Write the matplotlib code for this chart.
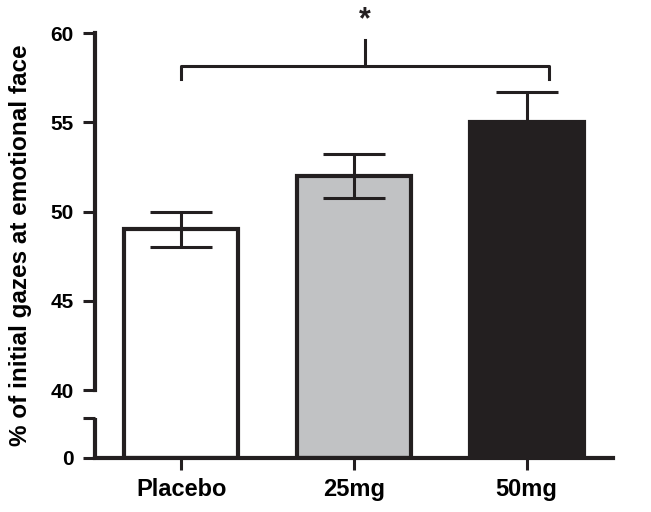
import numpy as np
import matplotlib
matplotlib.use("Agg")
import matplotlib.pyplot as plt

plt.rcParams['font.family'] = ['Liberation Sans', 'DejaVu Sans']
plt.rcParams['font.weight'] = 'bold'

# donnees
groupes = ["Placebo", "25mg", "50mg"]
moyennes = [49.0, 52.0, 55.0]
erreurs = [1.0, 1.25, 1.7]
couleurs = ["#ffffff", "#c1c2c4", "#231f20"]
graduations = [0, 40, 45, 50, 55, 60]
etiquettes = ["0", "40", "45", "50", "55", "60"]

noir = "#231f20"

# echelle coupee : 0-40 compresse, 40-60 normal
k = 0.095
def avant(v):
    v = np.asarray(v, dtype=float)
    return np.where(v < 40, v * k, 40 * k + v - 40)

def arriere(u):
    u = np.asarray(u, dtype=float)
    return np.where(u < 40 * k, u / k, u - 40 * k + 40)

fig = plt.figure(figsize=(6.51, 5.12), dpi=100)
ax = fig.add_axes([0.146, 0.1055, 0.7956, 0.83])
ax.set_yscale('function', functions=(avant, arriere))

x = np.arange(len(groupes))
ax.bar(x, moyennes, width=0.66, color=couleurs, edgecolor=noir, linewidth=3, zorder=2)
ax.errorbar(x, moyennes, yerr=erreurs, fmt='none', ecolor=noir, elinewidth=2.2,
            capsize=22.5, capthick=2.2, zorder=3)

ax.set_xlim(-0.5, 2.5)
ax.set_ylim(0, 60)

# axes
ax.spines['top'].set_visible(False)
ax.spines['right'].set_visible(False)
ax.spines['left'].set_linewidth(3)
ax.spines['bottom'].set_linewidth(3)
ax.spines['left'].set_color(noir)
ax.spines['bottom'].set_color(noir)
ax.spines['left'].set_bounds(40, 60)
haut_bas = 23.6
ax.plot([0, 0], [0, haut_bas], color=noir, lw=3, transform=ax.get_yaxis_transform(),
        clip_on=False, solid_capstyle='butt')

ax.set_yticks(graduations + [haut_bas])
ax.set_yticklabels(etiquettes + [""])
ax.set_xticks(x)
ax.set_xticklabels(groupes)
ax.tick_params(axis='y', length=8.6, width=2.2, color=noir, labelsize=15, pad=7)
ax.tick_params(axis='x', length=8.6, width=2.2, color=noir, labelsize=17, pad=6)
ax.set_ylabel("% of initial gazes at emotional face", fontsize=17.5, fontweight='bold',
              labelpad=13)

# crochet de significativite
g, d = 0, 2.13
ax.plot([g, g, d, d], [57.45, 58.17, 58.17, 57.45], color=noir, lw=2.2, clip_on=False)
ax.plot([(g + d) / 2] * 2, [58.17, 59.6], color=noir, lw=2.2, clip_on=False)
ax.text((g + d) / 2, 59.85, "*", ha='center', va='bottom', fontsize=22, fontweight='bold',
        color=noir, clip_on=False)

fig.savefig("out.png", dpi=100)
